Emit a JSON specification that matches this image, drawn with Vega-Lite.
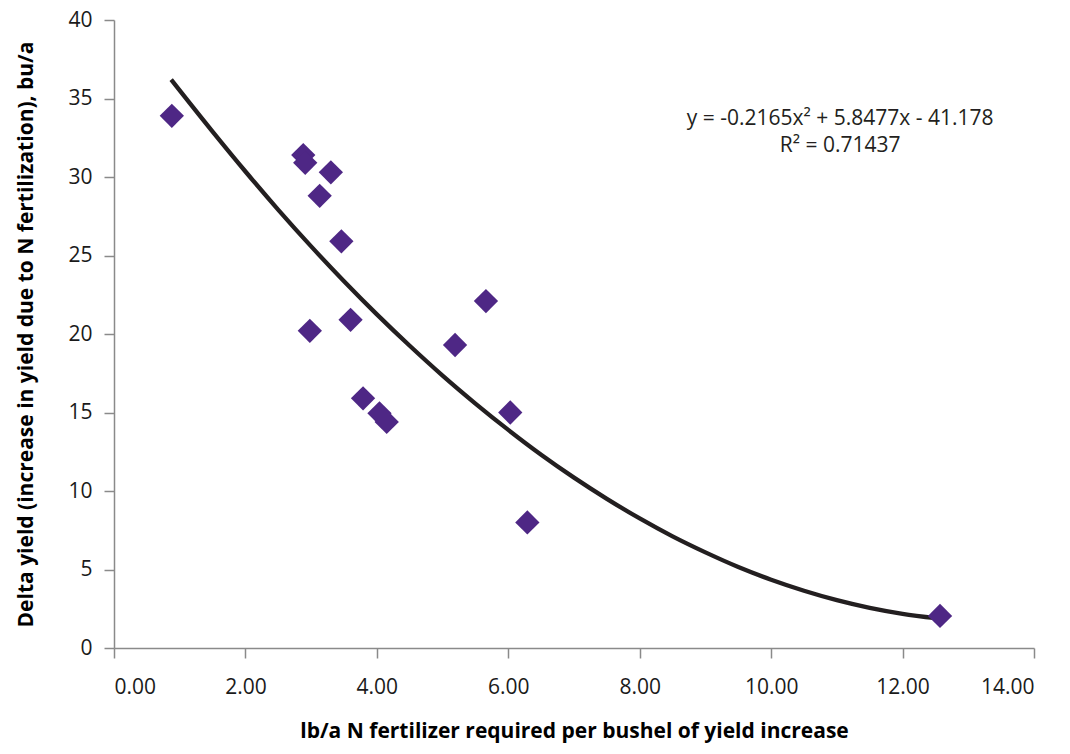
{
  "$schema": "https://vega.github.io/schema/vega-lite/v6.json",
  "width": 920,
  "height": 628,
  "autosize": "none",
  "padding": {"left": 114, "top": 20, "right": 36, "bottom": 106},
  "background": "white",
  "config": {
    "view": {"stroke": null},
    "font": "Open Sans",
    "axis": {
      "grid": false,
      "domainColor": "#8a8a8a",
      "domainWidth": 1.5,
      "tickColor": "#8a8a8a",
      "tickWidth": 1.5,
      "tickSize": 10,
      "labelFont": "Open Sans",
      "labelFontSize": 21,
      "labelColor": "#1a1a1a",
      "titleFont": "Open Sans",
      "titleFontSize": 21,
      "titleFontWeight": "bold",
      "titleColor": "#000000"
    }
  },
  "datasets": {
    "pts": [
      {"x": 0.88, "y": 33.9},
      {"x": 2.88, "y": 31.4},
      {"x": 2.91, "y": 30.9},
      {"x": 3.30, "y": 30.3},
      {"x": 3.13, "y": 28.8},
      {"x": 3.46, "y": 25.9},
      {"x": 2.98, "y": 20.2},
      {"x": 3.60, "y": 20.9},
      {"x": 5.66, "y": 22.1},
      {"x": 5.19, "y": 19.3},
      {"x": 3.79, "y": 15.9},
      {"x": 4.04, "y": 14.95},
      {"x": 4.15, "y": 14.4},
      {"x": 6.03, "y": 15.0},
      {"x": 6.29, "y": 8.0},
      {"x": 12.57, "y": 2.04}
    ],
    "curve": [
      {"x": 0.87, "y": 36.2},
      {"x": 1.5, "y": 32.89},
      {"x": 2.0, "y": 30.35},
      {"x": 2.5, "y": 27.91},
      {"x": 3.0, "y": 25.58},
      {"x": 3.5, "y": 23.36},
      {"x": 4.0, "y": 21.25},
      {"x": 4.5, "y": 19.25},
      {"x": 5.0, "y": 17.35},
      {"x": 5.5, "y": 15.57},
      {"x": 6.0, "y": 13.89},
      {"x": 6.5, "y": 12.31},
      {"x": 7.0, "y": 10.85},
      {"x": 7.5, "y": 9.5},
      {"x": 8.0, "y": 8.25},
      {"x": 8.5, "y": 7.11},
      {"x": 9.0, "y": 6.09},
      {"x": 9.5, "y": 5.16},
      {"x": 10.0, "y": 4.35},
      {"x": 10.5, "y": 3.65},
      {"x": 11.0, "y": 3.05},
      {"x": 11.5, "y": 2.56},
      {"x": 12.0, "y": 2.18},
      {"x": 12.51, "y": 1.9}
    ],
    "notes": [
      {"x": 11.05, "y": 33.7, "label": "y = -0.2165x² + 5.8477x - 41.178"},
      {"x": 11.05, "y": 32.0, "label": "R² = 0.71437"}
    ]
  },
  "layer": [
    {
      "data": {"name": "curve"},
      "mark": {"type": "line", "color": "#231f20", "strokeWidth": 4.3, "interpolate": "monotone"},
      "encoding": {
        "x": {
          "field": "x", "type": "quantitative",
          "scale": {"domain": [0, 14], "nice": false},
          "axis": {"values": [0, 2, 4, 6, 8, 10, 12, 14], "format": ".2f", "labelPadding": 18, "title": "lb/a N fertilizer required per bushel of yield increase", "titlePadding": 23}
        },
        "y": {
          "field": "y", "type": "quantitative",
          "scale": {"domain": [0, 40], "nice": false},
          "axis": {"values": [0, 5, 10, 15, 20, 25, 30, 35, 40], "labelPadding": 12, "title": "Delta yield (increase in yield due to N fertilization), bu/a", "titlePadding": 31}
        }
      }
    },
    {
      "data": {"name": "pts"},
      "mark": {"type": "point", "shape": "diamond", "filled": true, "size": 590, "color": "#4e2785", "opacity": 1},
      "encoding": {
        "x": {"field": "x", "type": "quantitative"},
        "y": {"field": "y", "type": "quantitative"}
      }
    },
    {
      "data": {"name": "notes"},
      "mark": {"type": "text", "font": "Open Sans", "fontSize": 21, "color": "#231f20", "align": "center", "baseline": "middle"},
      "encoding": {
        "x": {"field": "x", "type": "quantitative"},
        "y": {"field": "y", "type": "quantitative"},
        "text": {"field": "label"}
      }
    }
  ]
}
